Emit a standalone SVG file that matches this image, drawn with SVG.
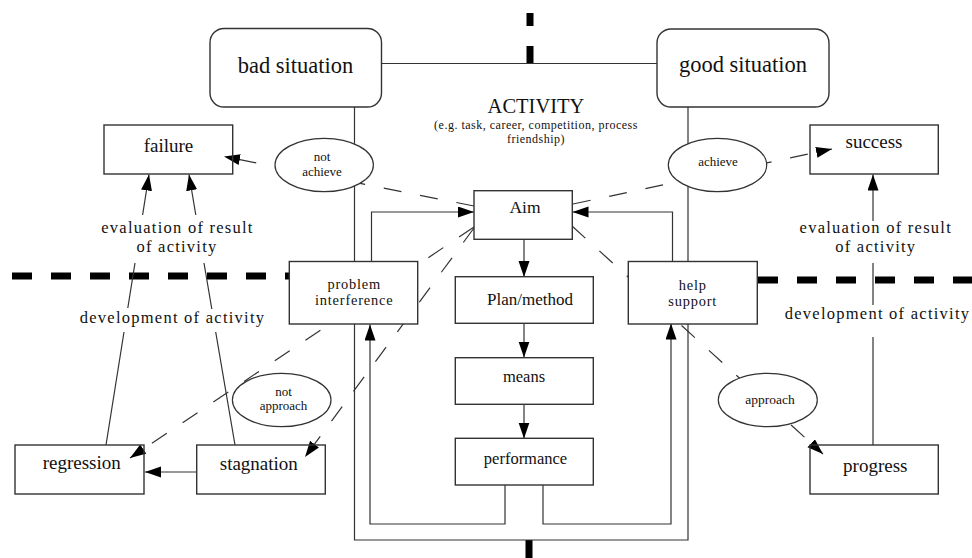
<svg xmlns="http://www.w3.org/2000/svg" width="972" height="558" viewBox="0 0 972 558" font-family="'Liberation Serif', 'DejaVu Serif', serif">
<defs>
<marker id="ah" markerUnits="userSpaceOnUse" markerWidth="17" markerHeight="12" refX="16" refY="5.5" orient="auto"><path d="M0,0 L16,5.5 L0,11 z" fill="#000"/></marker>
</defs>
<style>
.box{fill:#fff;stroke:#333;stroke-width:1.4}
.open{fill:none;stroke:#333;stroke-width:1.4}
.ov{fill:#fff;stroke:#333;stroke-width:1.2}
.ln{fill:none;stroke:#333;stroke-width:1.2}
.ar{marker-end:url(#ah)}
.dash{fill:none;stroke:#333;stroke-width:1.2;stroke-dasharray:18 19}
.thick{fill:none;stroke:#000;stroke-width:7;stroke-dasharray:20 19}
.solidthick{fill:none;stroke:#000;stroke-width:7}
text{font-family:'Liberation Serif','DejaVu Serif',serif;fill:#111;text-anchor:middle}
.big{font-size:22.5px}
.act{font-size:20.5px}
.sub{font-size:12px;letter-spacing:0.5px}
.node{font-size:19px}
.lab{font-size:16.5px;letter-spacing:1.25px}
.inner{font-size:16.5px}
.two{font-size:14.4px;letter-spacing:0.8px}
.ovt{font-size:13px}
</style>
<rect width="972" height="558" fill="#fff"/>

<g id="dividers">
<path class="thick" d="M12,276 H289"/>
<path class="thick" d="M758,280 H972"/>
<path class="solidthick" d="M530,13 V26 M530,46 V64 M529,540 V558"/>
</g>

<g id="connectors">
<path class="ln" d="M381.5,63.5 H657"/>
<path class="ln" d="M354.5,107 V540 H688 V107"/>
<path class="ln ar" d="M371.5,261 V212 H474"/>
<path class="ln ar" d="M672.5,261 V212 H572.5"/>
<path class="ln ar" d="M524,239.5 V277"/>
<path class="ln ar" d="M524,323.5 V357.5"/>
<path class="ln ar" d="M524,404.5 V438.5"/>
<path class="ln ar" d="M505,485 V524 H370 V324.5"/>
<path class="ln ar" d="M543,485 V524 H671 V323.5"/>
<path class="ln ar" d="M197,472 H145"/>
<path class="ln" d="M106,445 L124,332 M127.8,308 L135,263"/>
<path class="ln ar" d="M142.6,215 L149,174.5"/>
<path class="ln" d="M235,445 L215.7,332 M211.8,309 L204,263"/>
<path class="ln ar" d="M195.8,215 L189,174.5"/>
<path class="ln" d="M873,445 V337 M873,305 V263"/>
<path class="ln ar" d="M873,221 V174.5"/>
<path class="dash ar" d="M474,206 L224,156.5"/>
<path class="dash ar" d="M573,204 L832,149"/>
<path class="dash ar" d="M474,227 L130,458"/>
<path class="dash ar" d="M474,228 L305,457"/>
<path class="dash ar" d="M572,226 L823,454"/>
</g>

<g id="bad-situation">
<rect class="box" x="210" y="28.5" width="171.5" height="78.5" rx="14"/>
<text class="big" x="295.5" y="72.5">bad situation</text>
</g>
<g id="good-situation">
<rect class="box" x="657" y="29" width="172" height="78" rx="14"/>
<text class="big" x="743" y="72">good situation</text>
</g>
<g id="activity">
<text class="act" x="536" y="113">ACTIVITY</text>
<text class="sub" x="536" y="128.5">(e.g. task, career, competition, process</text>
<text class="sub" x="536" y="142.5">friendship)</text>
</g>
<g id="failure">
<rect class="open" x="104" y="125" width="128.7" height="49"/>
<text class="node" x="168.5" y="151.5">failure</text>
</g>
<g id="success">
<rect class="open" x="810" y="125" width="128.3" height="49"/>
<text class="node" x="874" y="148">success</text>
</g>
<g id="not-achieve">
<ellipse class="ov" cx="324.2" cy="165" rx="49.2" ry="26.7"/>
<text class="ovt" x="322" y="160.5">not</text>
<text class="ovt" x="322" y="175.5">achieve</text>
</g>
<g id="achieve">
<ellipse class="ov" cx="717.5" cy="165" rx="49.2" ry="26.7"/>
<text class="ovt" x="718" y="166">achieve</text>
</g>
<g id="aim">
<rect class="box" x="474" y="190.7" width="98.3" height="48.6"/>
<text class="inner" x="525" y="213" style="font-size:17.5px">Aim</text>
</g>
<g id="problem-interference">
<rect class="box" x="289.3" y="261.5" width="128.4" height="62.5"/>
<text class="two" x="354.2" y="289">problem</text>
<text class="two" x="354.2" y="305">interference</text>
</g>
<g id="help-support">
<rect class="box" x="628.3" y="261.5" width="129" height="62.5"/>
<text class="two" x="692.7" y="289.5">help</text>
<text class="two" x="692.7" y="305.5">support</text>
</g>
<g id="plan-method">
<rect class="box" x="455.3" y="276.7" width="138" height="46.6"/>
<text class="inner" x="530" y="305" style="font-size:17px">Plan/method</text>
</g>
<g id="means">
<rect class="box" x="455.3" y="357.7" width="138" height="46.6"/>
<text class="inner" x="524" y="382">means</text>
</g>
<g id="performance">
<rect class="box" x="455.3" y="438.3" width="138" height="46.7"/>
<text class="inner" x="525.5" y="464">performance</text>
</g>
<g id="not-approach">
<ellipse class="ov" cx="281.7" cy="400" rx="49.3" ry="26.7"/>
<text class="ovt" x="283.5" y="395.5">not</text>
<text class="ovt" x="283.5" y="410">approach</text>
</g>
<g id="approach">
<ellipse class="ov" cx="767.8" cy="400" rx="49.5" ry="26.7"/>
<text class="ovt" x="770" y="403.5" style="font-size:13.5px">approach</text>
</g>
<g id="regression">
<rect class="open" x="15" y="445" width="129" height="49"/>
<text class="node" x="81.7" y="469">regression</text>
</g>
<g id="stagnation">
<rect class="open" x="196.7" y="445" width="128.6" height="49"/>
<text class="node" x="258.8" y="469.5">stagnation</text>
</g>
<g id="progress">
<rect class="open" x="810" y="445" width="128.3" height="49"/>
<text class="node" x="875.3" y="472">progress</text>
</g>
<g id="labels">
<text class="lab" x="177.5" y="233">evaluation of result</text>
<text class="lab" x="177" y="251.5">of activity</text>
<text class="lab" x="172.5" y="323">development of activity</text>
<text class="lab" x="875.8" y="233">evaluation of result</text>
<text class="lab" x="875.8" y="251.5">of activity</text>
<text class="lab" x="877.5" y="318.5">development of activity</text>
</g>
</svg>
